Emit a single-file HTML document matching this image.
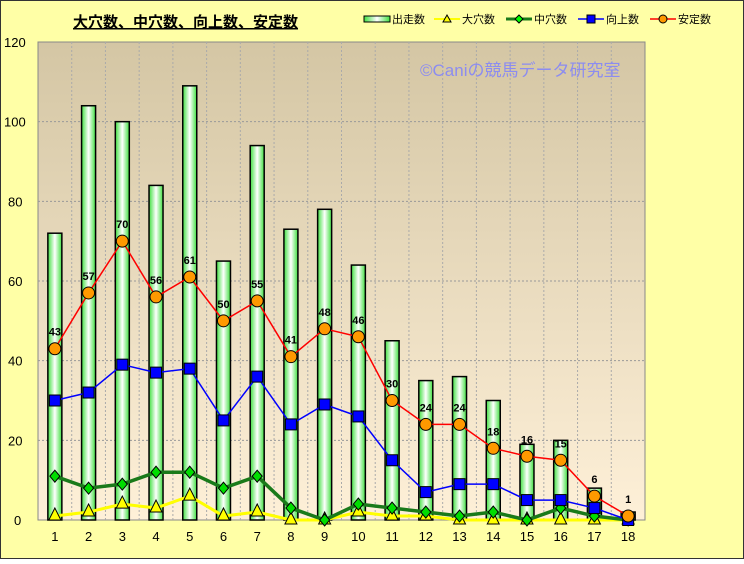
<!DOCTYPE html>
<html><head><meta charset="utf-8"><style>
html,body{margin:0;padding:0;}
body{width:744px;height:559px;overflow:hidden;font-family:"Liberation Sans","Noto Sans CJK JP",sans-serif;}
</style></head><body>
<svg width="744" height="559" xmlns="http://www.w3.org/2000/svg" font-family="Liberation Sans, Noto Sans CJK JP, sans-serif">
<defs>
<linearGradient id="bg" x1="0" y1="0" x2="0" y2="1"><stop offset="0" stop-color="#d4c6a4"/><stop offset="1" stop-color="#fef0d8"/></linearGradient>
<linearGradient id="bar" x1="0" y1="0" x2="1" y2="0"><stop offset="0" stop-color="#3fe03f"/><stop offset="0.5" stop-color="#ffffff"/><stop offset="1" stop-color="#3fe03f"/></linearGradient>
</defs>
<rect x="0.5" y="0.5" width="743" height="558" fill="#ffffa6" stroke="#333"/>
<rect x="38" y="42" width="607" height="478" fill="url(#bg)" stroke="#888"/>
<g id="grid"></g>
<text x="73" y="27" font-size="15" font-weight="bold" fill="#000" text-decoration="underline">大穴数、中穴数、向上数、安定数</text>
<g font-size="11" fill="#000">
<rect x="364" y="16" width="26" height="6" fill="url(#bar)" stroke="#000"/><text x="392" y="23">出走数</text>
<line x1="434" y1="19" x2="460" y2="19" stroke="#ff0" stroke-width="2"/><path d="M447 15 L451 22 L443 22Z" fill="#ff0" stroke="#000"/><text x="462" y="23">大穴数</text>
<line x1="506" y1="19" x2="532" y2="19" stroke="#1a7a1a" stroke-width="3"/><path d="M519 15 L523 19 L519 23 L515 19Z" fill="#0f0" stroke="#000"/><text x="534" y="23">中穴数</text>
<line x1="578" y1="19" x2="604" y2="19" stroke="#00f" stroke-width="1.5"/><rect x="587" y="15" width="8" height="8" fill="#00f" stroke="#000"/><text x="606" y="23">向上数</text>
<line x1="650" y1="19" x2="676" y2="19" stroke="#f00" stroke-width="1.5"/><circle cx="663" cy="19" r="4" fill="#f90" stroke="#000"/><text x="678" y="23">安定数</text>
</g>
<text x="420" y="76" font-size="17" fill="#8c8cf0">©Caniの競馬データ研究室</text>
<g id="main"></g>
</svg>
<script>
const L=38,R=645,T=42,B=520,cw=(R-L)/18;
const y=v=>B-v*(B-T)/120, x=i=>L+cw*(i+0.5);
const run=[72,104,100,84,109,65,94,73,78,64,45,35,36,30,19,20,8,2];
const oa=[1,2,4,3,6,1,2,0,0,2,1,1,0,0,0,0,0,0];
const mid=[11,8,9,12,12,8,11,3,0,4,3,2,1,2,0,3,1,0];
const up=[30,32,39,37,38,25,36,24,29,26,15,7,9,9,5,5,3,0];
const st=[43,57,70,56,61,50,55,41,48,46,30,24,24,18,16,15,6,1];
let g='';
for(let v=20;v<120;v+=20)g+=`<line x1="${L}" x2="${R}" y1="${y(v)}" y2="${y(v)}" stroke="#999" stroke-dasharray="2,2"/>`;
for(let i=1;i<18;i++)g+=`<line y1="${T}" y2="${B}" x1="${L+cw*i}" x2="${L+cw*i}" stroke="#aaa" stroke-dasharray="2,2"/>`;
for(let v=0;v<=120;v+=20)g+=`<text x="${v>=100?4:(v==0?14:8)}" y="${y(v)+5}" font-size="13">${v}</text>`;
for(let i=0;i<18;i++)g+=`<text x="${x(i)}" y="541" font-size="13" text-anchor="middle">${i+1}</text>`;
document.getElementById('grid').innerHTML=g;
let m='';
for(let i=0;i<18;i++)m+=`<rect x="${x(i)-7}" y="${y(run[i])}" width="14" height="${B-y(run[i])}" fill="url(#bar)" stroke="#000" stroke-width="1.5"/>`;
const pl=(a,c,w)=>`<polyline fill="none" stroke="${c}" stroke-width="${w}" points="${a.map((v,i)=>x(i)+','+y(v)).join(' ')}"/>`;
m+=pl(oa,'#ff0',3)+pl(mid,'#1a7a1a',3.5)+pl(up,'#00f',1.5)+pl(st,'#f00',1.5);
for(let i=0;i<18;i++){
 const X=x(i);
 m+=`<path d="M${X} ${y(oa[i])-8} L${X+6} ${y(oa[i])+4} L${X-6} ${y(oa[i])+4}Z" fill="#ff0" stroke="#000"/>`;
 m+=`<path d="M${X} ${y(mid[i])-6} L${X+5} ${y(mid[i])} L${X} ${y(mid[i])+6} L${X-5} ${y(mid[i])}Z" fill="#0d0" stroke="#000"/>`;
 m+=`<rect x="${X-5.5}" y="${y(up[i])-5.5}" width="11" height="11" fill="#00f" stroke="#000"/>`;
 m+=`<circle cx="${X}" cy="${y(st[i])}" r="6" fill="#f90" stroke="#000"/>`;
 m+=`<text x="${X}" y="${y(st[i])-13}" font-size="11" font-weight="bold" text-anchor="middle">${st[i]}</text>`;
}
document.getElementById('main').innerHTML=m;
</script>
</body></html>
